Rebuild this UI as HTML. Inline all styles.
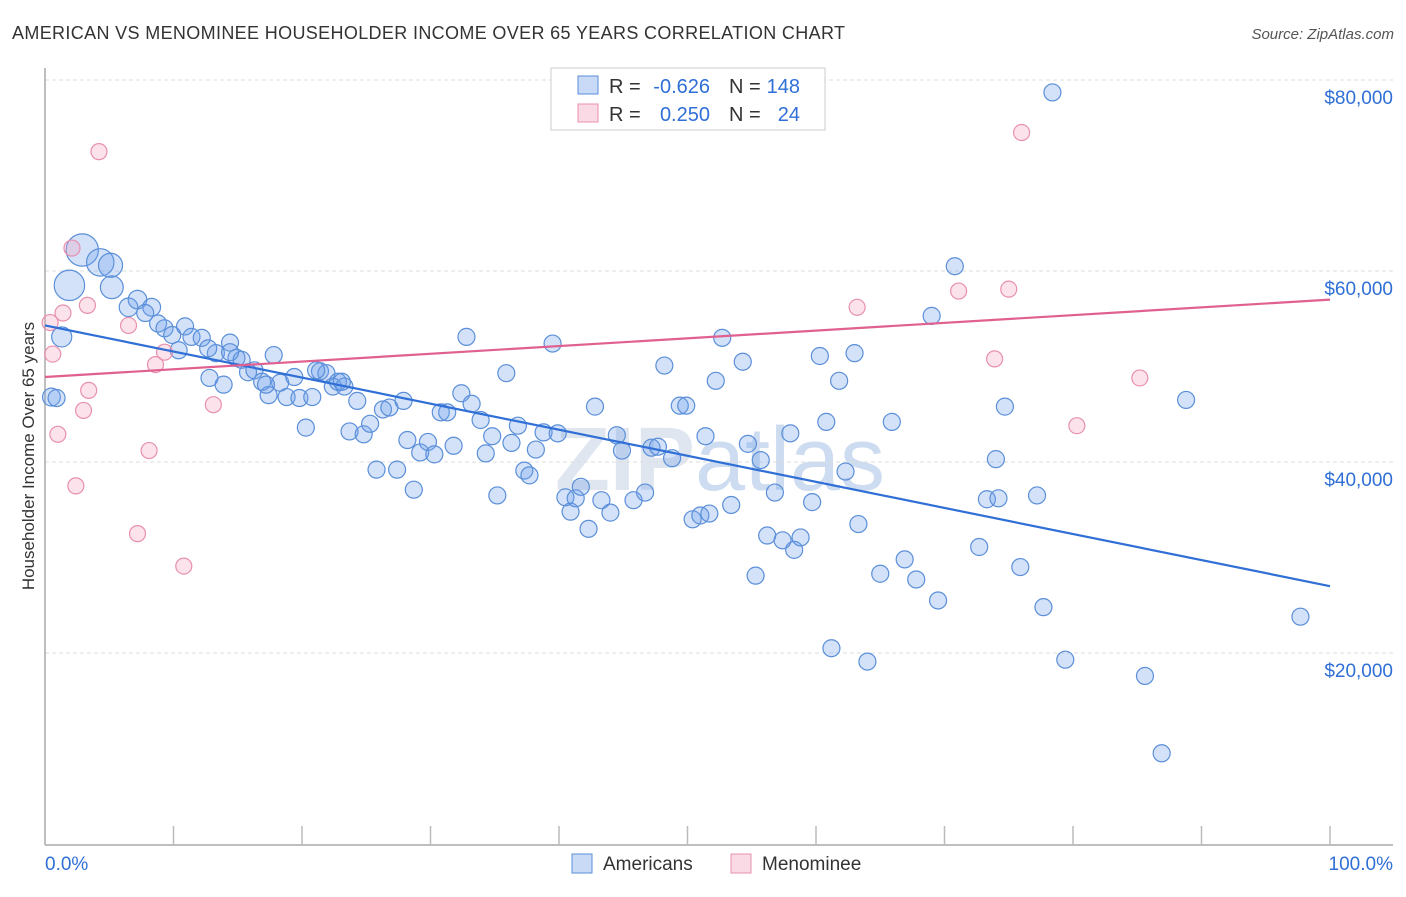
<!DOCTYPE html>
<html><head><meta charset="utf-8"><style>
body{margin:0;background:#fff;font-family:"Liberation Sans",sans-serif}
svg text{font-family:"Liberation Sans",sans-serif}
</style></head><body>
<svg id="c" width="1406" height="892" xmlns="http://www.w3.org/2000/svg">
<text x="12" y="39" font-size="18" fill="#333" textLength="833">AMERICAN VS MENOMINEE HOUSEHOLDER INCOME OVER 65 YEARS CORRELATION CHART</text>
<text x="1394" y="39" font-size="15" fill="#555" text-anchor="end" font-style="italic">Source: ZipAtlas.com</text>
<text transform="translate(34,456) rotate(-90)" font-size="17" fill="#333" text-anchor="middle">Householder Income Over 65 years</text>
<text x="720" y="490" font-size="90" fill="#dfe6f0" text-anchor="middle" font-weight="bold">ZIP<tspan fill="#cddcf0" font-weight="normal">atlas</tspan></text>
<g id="grid"></g><g id="axes"></g><g id="pts"></g><g id="lines"></g>
<g>
<rect x="551" y="68" width="274" height="62" fill="#fff" stroke="#ccc"/>
<rect x="578" y="76" width="20" height="18" fill="rgba(100,150,230,0.35)" stroke="#5b8fd9"/>
<rect x="578" y="104" width="20" height="18" fill="rgba(240,150,180,0.35)" stroke="#e890ae"/>
<text x="609" y="93" font-size="20" fill="#333">R =</text>
<text x="710" y="93" font-size="20" fill="#2f6fd6" text-anchor="end">-0.626</text>
<text x="729" y="93" font-size="20" fill="#333">N =</text>
<text x="800" y="93" font-size="20" fill="#2f6fd6" text-anchor="end">148</text>
<text x="609" y="121" font-size="20" fill="#333">R =</text>
<text x="710" y="121" font-size="20" fill="#2f6fd6" text-anchor="end">0.250</text>
<text x="729" y="121" font-size="20" fill="#333">N =</text>
<text x="800" y="121" font-size="20" fill="#2f6fd6" text-anchor="end">24</text>
</g>
<g>
<rect x="572" y="854" width="20" height="19" fill="rgba(100,150,230,0.35)" stroke="#5b8fd9"/>
<text x="603" y="870" font-size="19" fill="#333">Americans</text>
<rect x="731" y="854" width="20" height="19" fill="rgba(240,150,180,0.35)" stroke="#e890ae"/>
<text x="762" y="870" font-size="19" fill="#333">Menominee</text>
</g>
</svg>
<script>
const amX=[2.9,1.9,4.3,5.1,5.2,0.5,0.9,1.3,6.5,7.2,8.3,7.8,8.8,9.3,9.9,10.4,10.9,11.4,12.2,12.8,13.3,13.9,14.4,14.9,15.3,15.8,16.3,16.9,17.4,17.8,18.3,18.8,19.4,19.8,20.3,20.8,21.4,21.9,22.4,22.8,23.3,23.7,24.3,24.8,25.3,25.8,26.3,26.8,27.4,27.9,28.2,28.7,29.2,29.8,30.3,30.8,31.3,31.8,32.4,32.8,33.2,33.9,34.3,34.8,35.2,35.9,36.3,36.8,37.3,37.7,38.2,38.8,39.5,39.9,40.5,40.9,41.3,41.7,42.3,42.8,43.3,44.0,44.5,44.9,45.8,46.7,47.2,47.7,48.2,48.8,49.4,49.9,50.4,51.0,51.7,51.4,52.2,52.7,53.4,54.3,54.7,55.3,55.7,56.2,56.8,57.4,58.0,58.3,58.8,59.7,60.3,60.8,61.2,61.8,62.3,63.0,63.3,64.0,65.0,65.9,66.9,67.8,69.0,69.5,70.8,72.7,73.3,74.0,74.2,74.7,75.9,77.2,77.7,78.4,79.4,85.6,86.9,88.8,97.7,12.7,14.4,17.2,21.1,23.1];
const amY=[62.2,58.5,60.9,60.6,58.3,46.8,46.7,53.1,56.2,57.0,56.2,55.6,54.5,54.0,53.3,51.7,54.2,53.1,53.0,48.8,51.4,48.1,52.5,50.9,50.7,49.4,49.6,48.4,47.0,51.2,48.3,46.8,48.9,46.7,43.6,46.8,49.5,49.3,47.9,48.4,47.9,43.2,46.4,42.9,44.0,39.2,45.5,45.7,39.2,46.4,42.3,37.1,41.0,42.1,40.8,45.2,45.2,41.7,47.2,53.1,46.1,44.4,40.9,42.7,36.5,49.3,42.0,43.8,39.1,38.6,41.3,43.1,52.4,43.0,36.3,34.8,36.2,37.4,33.0,45.8,36.0,34.7,42.8,41.2,36.0,36.8,41.5,41.6,50.1,40.4,45.9,45.9,34.0,34.4,34.6,42.7,48.5,53.0,35.5,50.5,41.9,28.1,40.2,32.3,36.8,31.8,43.0,30.8,32.1,35.8,51.1,44.2,20.5,48.5,39.0,51.4,33.5,19.1,28.3,44.2,29.8,27.7,55.3,25.5,60.5,31.1,36.1,40.3,36.2,45.8,29.0,36.5,24.8,78.7,19.3,17.6,9.5,46.5,23.8,51.9,51.5,48.1,49.6,48.4];
const amW=[3.6,3.2,2.6,2,1.8,1.1,1,1.4,1.2,1.2,1.1];
const meX=[4.2,76.0,2.1,3.3,1.4,6.5,0.4,0.6,9.3,8.6,3.4,3.0,1.0,2.4,8.1,13.1,7.2,10.8,63.2,71.1,75.0,73.9,85.2,80.3];
const meY=[72.5,74.5,62.4,56.4,55.6,54.3,54.6,51.3,51.5,50.2,47.5,45.4,42.9,37.5,41.2,46.0,32.5,29.1,56.2,57.9,58.1,50.8,48.8,43.8];
const amTrend=[54.3,27.0];
const meTrend=[48.9,57.0];
const yTicks=[20,40,60,80];
const xTicks=[0,10,20,30,40,50,60,70,80,90,100];
const NS='http://www.w3.org/2000/svg';
const sx=v=>45+v*12.85, sy=v=>844-v*9.55;
function mk(tag,attrs,parent){const e=document.createElementNS(NS,tag);for(const k in attrs)e.setAttribute(k,attrs[k]);document.getElementById(parent).appendChild(e);return e;}
yTicks.forEach(t=>{
 const l=mk('line',{x1:45,x2:1393,y1:sy(t),y2:sy(t),stroke:'#ddd','stroke-dasharray':'4,3'},'grid');
 
 
 const tx=mk('text',{x:1393,y:sy(t)+24,'font-size':19,fill:'#2f6fd6','text-anchor':'end'},'grid');
 tx.textContent='$'+(t*1000).toLocaleString('en-US');
 
 
});
mk('line',{x1:45,x2:45,y1:68,y2:845,stroke:'#aaa','stroke-width':1.5},'axes');
mk('line',{x1:45,x2:1393,y1:845,y2:845,stroke:'#aaa','stroke-width':1.5},'axes');
xTicks.forEach(t=>{if(t>0){const l=mk('line',{x1:sx(t),x2:sx(t),y1:826,y2:845,stroke:'#bbb','stroke-width':1.5},'axes');
 
 }});
let a=mk('text',{x:45,y:870,'font-size':19,fill:'#2f6fd6'},'axes');a.textContent='0.0%';


a=mk('text',{x:1393,y:870,'font-size':19,fill:'#2f6fd6','text-anchor':'end'},'axes');a.textContent='100.0%';


amX.forEach((x,i)=>{const w=amW[i]||1;const c=mk('circle',{cx:sx(x),cy:sy(amY[i]),r:8.5*Math.sqrt(w),fill:'rgba(110,160,235,0.3)',stroke:'#5b8fd9','stroke-width':1.2},'pts');
 
 });
meX.forEach((x,i)=>{const c=mk('circle',{cx:sx(x),cy:sy(meY[i]),r:8,fill:'rgba(245,160,190,0.3)',stroke:'#e890ae','stroke-width':1.2},'pts');
 
 });
let t1=mk('line',{x1:sx(0),y1:sy(amTrend[0]),x2:sx(100),y2:sy(amTrend[1]),stroke:'#2f6fd6','stroke-width':2.2},'lines');


let t2=mk('line',{x1:sx(0),y1:sy(meTrend[0]),x2:sx(100),y2:sy(meTrend[1]),stroke:'#e0608f','stroke-width':2.2},'lines');


</script>
</body></html>
